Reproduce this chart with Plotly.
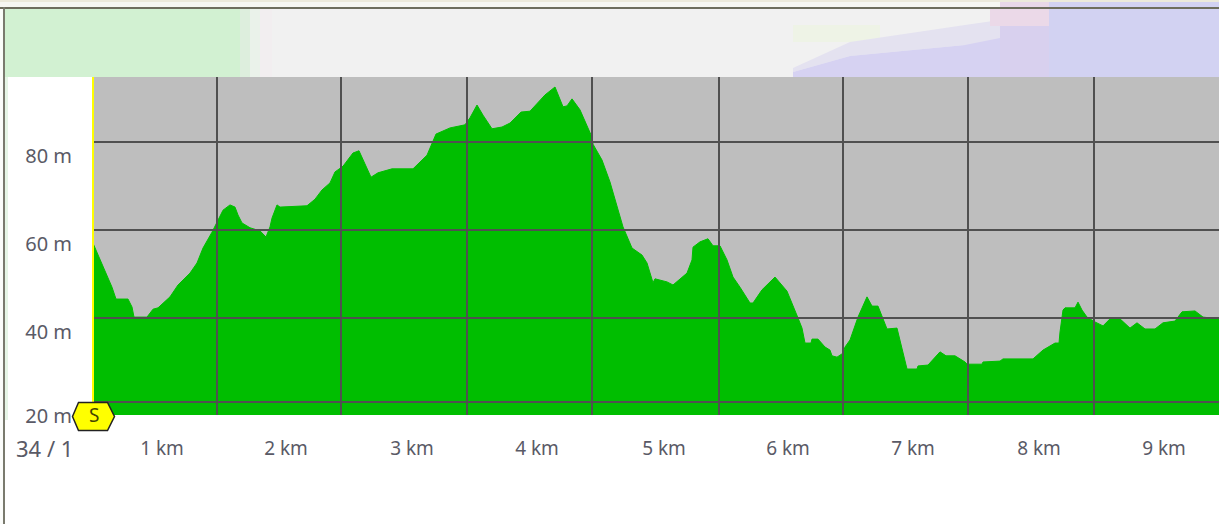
import plotly.graph_objects as go

W, H = 1219, 524
L, R, T, B = 93, 1219, 77, 415

distance_km = [0, .056, .112, .152, .184, .28, .312, .328, .432, .48, .52, .616, .68, .776, .832, .88, .952, 1.0, 1.04, 1.096,
               1.136, 1.16, 1.192, 1.256, 1.336, 1.384, 1.416, 1.432, 1.472, 1.496, 1.712, 1.776, 1.832, 1.896, 1.936, 2.0,
               2.08, 2.128, 2.16, 2.224, 2.28, 2.392, 2.56, 2.672, 2.744, 2.856, 2.976, 3.016, 3.072, 3.12, 3.192, 3.272,
               3.336, 3.424, 3.496, 3.616, 3.696, 3.76, 3.792, 3.832, 3.896, 3.992, 4.0, 4.072, 4.136, 4.24, 4.312, 4.392,
               4.432, 4.48, 4.496, 4.592, 4.64, 4.752, 4.792, 4.8, 4.856, 4.92, 4.96, 5.016, 5.072, 5.12, 5.176, 5.256,
               5.28, 5.352, 5.456, 5.552, 5.64, 5.672, 5.696, 5.744, 5.752, 5.8, 5.856, 5.896, 5.912, 5.952, 6.0, 6.016,
               6.056, 6.12, 6.192, 6.232, 6.28, 6.352, 6.432, 6.512, 6.592, 6.6, 6.68, 6.776, 6.824, 6.896, 6.976, 6.992,
               7.112, 7.12, 7.256, 7.28, 7.52, 7.6, 7.696, 7.728, 7.736, 7.76, 7.776, 7.856, 7.88, 7.912, 7.952, 8.016,
               8.08, 8.136, 8.216, 8.296, 8.352, 8.416, 8.496, 8.56, 8.656, 8.712, 8.816, 8.88, 9.008]
elevation_m = [57.0, 53.2, 49.3, 47.0, 44.3, 44.3, 42.5, 40.2, 40.2, 42.0, 42.3, 44.8, 47.5, 50.2, 52.5, 55.9, 59.5, 62.3, 64.5, 65.7,
               65.2, 63.4, 61.6, 60.5, 59.8, 58.4, 60.7, 62.7, 65.7, 65.2, 65.5, 67.0, 69.1, 70.7, 73.2, 74.5,
               77.5, 78.0, 75.9, 72.0, 73.0, 73.9, 73.9, 77.0, 81.8, 83.2, 83.9, 85.5, 88.4, 86.1, 83.0, 83.4,
               84.3, 86.8, 87.0, 90.7, 92.5, 88.0, 88.2, 89.8, 87.3, 81.1, 79.5, 75.9, 70.9, 60.7, 55.9, 54.3,
               52.5, 48.0, 48.9, 48.2, 47.5, 50.2, 53.2, 56.1, 57.3, 58.0, 56.4, 56.4, 53.2, 49.3, 47.0, 43.4,
               43.4, 46.4, 49.3, 46.1, 40.0, 37.7, 34.3, 34.3, 35.2, 35.2, 33.4, 32.7, 31.4, 31.1, 32.0, 33.4,
               35.0, 40.2, 44.8, 42.7, 42.7, 37.5, 37.7, 28.4, 28.4, 29.1, 29.3, 32.3, 31.4, 31.4, 30.0, 29.5,
               29.5, 30.0, 30.2, 30.7, 30.7, 32.7, 34.3, 34.3, 36.8, 41.8, 42.3, 42.3, 43.6, 41.8, 40.2, 39.1,
               38.2, 39.8, 39.8, 37.7, 38.9, 37.5, 37.5, 38.9, 39.3, 41.4, 41.6, 40.2, 39.8]

km_grid = [0.992, 1.984, 2.992, 3.992, 5.008, 6.0, 7.0, 8.008, 9.008]
km_labels = ["1 km", "2 km", "3 km", "4 km", "5 km", "6 km", "7 km", "8 km", "9 km"]
m_grid = [80, 60, 40, 20.9]
m_labels = ["80 m", "60 m", "40 m", "20 m"]
origin_label = "34 / 1"
start_label = "S"

TEXT = "#5a5a66"
FONT = "Noto Sans"
def fx(x): return (x - L) / (R - L)
def fy(y): return (B - y) / (B - T)

def poly(points, color):
    path = "M " + " L ".join(f"{fx(x):.5f} {fy(y):.5f}" for x, y in points) + " Z"
    return dict(type="path", xref="paper", yref="paper", path=path, fillcolor=color, line_width=0, layer="below")
def rect(x0, y0, x1, y1, color):
    return poly([(x0, y0), (x1, y0), (x1, y1), (x0, y1)], color)

shapes = [
    # header backdrop
    rect(0, 0, 1219, 2, "#ECEADB"),
    rect(0, 2, 1000, 7, "#F6F7F2"),
    rect(0, 9, 5, 524, "#FBFCFA"),
    rect(5, 9, 240, 77, "#D2F1D2"),
    rect(5, 77, 8, 420, "#E6F5E6"),
    rect(240, 9, 250, 77, "#DDEEDD"),
    rect(250, 9, 260, 77, "#EAF2EA"),
    rect(260, 9, 272, 77, "#F2EEF0"),
    rect(272, 9, 1000, 77, "#F1F1F1"),
    rect(793, 25, 880, 42, "#EEF3E6"),
    poly([(793, 68), (850, 42), (965, 25), (1000, 20), (1000, 50), (965, 45), (850, 56), (793, 72)], "#E4E2F0"),
    poly([(793, 72), (850, 56), (965, 45), (1000, 38), (1049, 26), (1049, 77), (793, 77)], "#D6D2F2"),
    rect(990, 9, 1049, 26, "#EBD9E8"),
    rect(1049, 2, 1219, 77, "#D2D2F2"),
    rect(1000, 2, 1049, 7, "#E8D8E8"),
    rect(1000, 26, 1049, 77, "#D8D0EE"),
    # window border
    rect(0, 7, 1219, 9, "#6E6E5E"),
    rect(3, 7, 5, 524, "#7A7A6E"),
]
# grid painted over the profile
for k in km_grid[:-1]:
    shapes.append(dict(type="line", xref="x", yref="paper", x0=k, x1=k, y0=0, y1=1,
                       line=dict(color="#505050", width=2), layer="above"))
for m in m_grid:
    shapes.append(dict(type="line", xref="paper", yref="y", x0=0, x1=1, y0=m, y1=m,
                       line=dict(color="#505050", width=2), layer="above"))
# start line and flag
shapes.append(dict(type="line", xref="paper", yref="paper", x0=fx(93), x1=fx(93), y0=fy(402), y1=1,
                   line=dict(color="#FFFF00", width=2), layer="above"))
shapes.append(dict(type="path", xref="paper", yref="paper", xsizemode="pixel", ysizemode="pixel",
                   xanchor=fx(93.5), yanchor=fy(416.5),
                   path="M -21 0 L -15 14 L 14 14 L 21 0 L 14 -14 L -15 -14 Z",
                   fillcolor="#FFFF00", line=dict(color="#222222", width=1.5), layer="above"))

fig = go.Figure(go.Scatter(x=distance_km, y=elevation_m, mode="lines", fill="tozeroy",
                           fillcolor="#00BE00", line=dict(color="#00BE00", width=1), hoverinfo="skip"))
fig.update_layout(
    width=W, height=H, autosize=False, showlegend=False,
    margin=dict(l=L, r=W - R, t=T, b=H - B, pad=0),
    paper_bgcolor="#FFFFFF", plot_bgcolor="#BEBEBE",
    font=dict(family=FONT, size=18, color=TEXT),
    shapes=shapes,
    annotations=[
        dict(xref="paper", yref="paper", x=fx(44), y=fy(448), xanchor="center", yanchor="middle",
             text=origin_label, showarrow=False, font=dict(family=FONT, size=22, color=TEXT)),
        dict(xref="paper", yref="paper", x=fx(94), y=fy(415), xanchor="center", yanchor="middle",
             text=start_label, showarrow=False, font=dict(family=FONT, size=19, color="#444400")),
    ],
    xaxis=dict(range=[0, 9.008], showgrid=False, zeroline=False, showline=False, ticks="",
               tickmode="array", tickvals=km_grid, ticktext=km_labels, tickangle=0,
               tickfont=dict(size=19), ticklabelshift=-55, ticklabelstandoff=20),
    yaxis=dict(range=[17.95, 94.77], showgrid=False, zeroline=False, showline=False, ticks="",
               tickmode="array", tickvals=m_grid, ticktext=m_labels, tickfont=dict(size=20),
               ticklabelshift=14, ticklabelstandoff=20),
)
fig.write_html("out.html", config=dict(displayModeBar=False),
               post_script="document.body.style.margin='0';document.documentElement.style.overflow='hidden';")
